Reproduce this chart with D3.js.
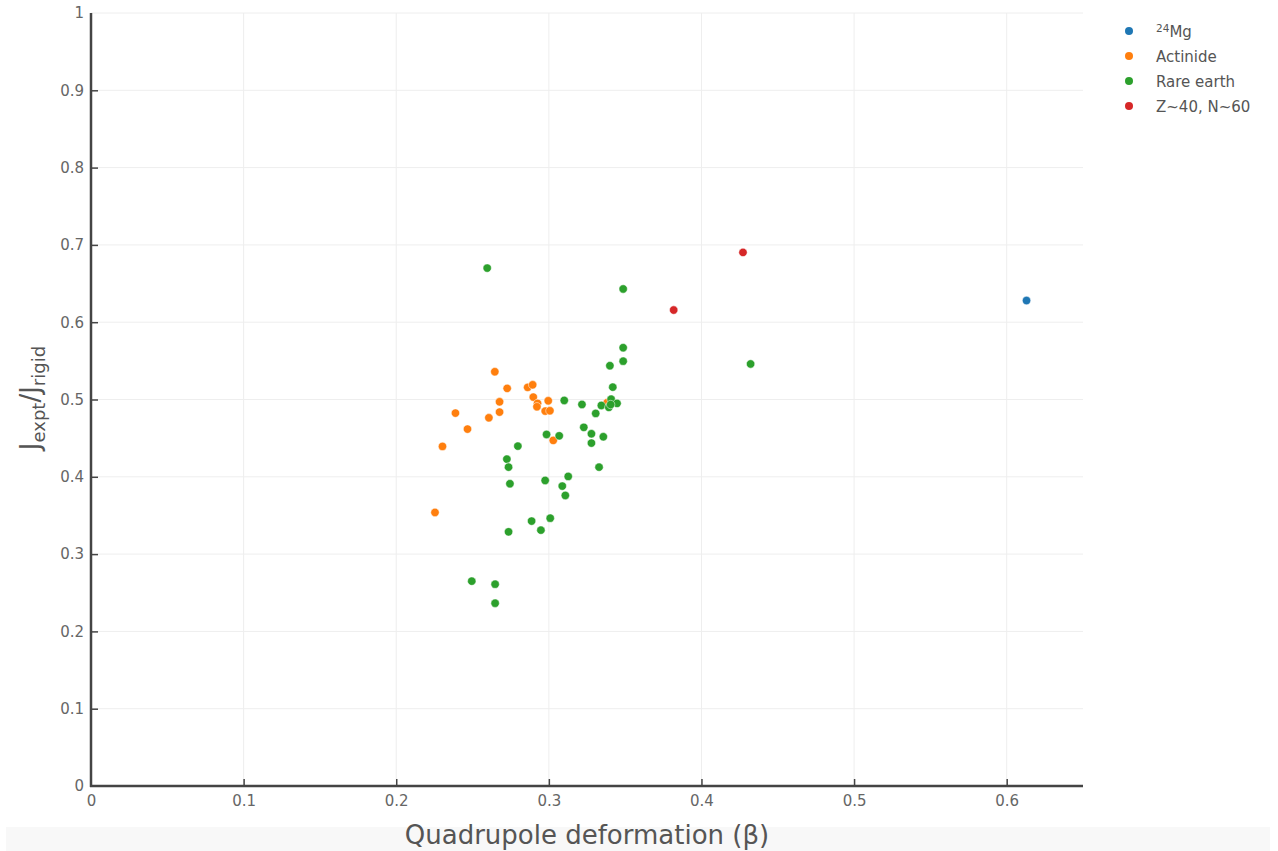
<!DOCTYPE html>
<html>
<head>
<meta charset="utf-8">
<script src="https://cdn.jsdelivr.net/npm/d3@7"></script>
<style>
  html, body { margin: 0; padding: 0; background: #fff; }
  svg { display: block; font-family: "DejaVu Sans", Verdana, sans-serif; }
</style>
</head>
<body>
<svg id="chart" width="1278" height="851"></svg>
<script>
// Moment of inertia ratio vs. quadrupole deformation, by nuclear region
const mgBeta = [0.613];
const mgRatio = [0.628];

const actinideBeta = [0.2646, 0.2727, 0.2861, 0.2894, 0.2898, 0.2926, 0.2922, 0.2996, 0.2976, 0.3007,
  0.2677, 0.2677, 0.2388, 0.2607, 0.2467, 0.2303, 0.3029, 0.2254, 0.3382];
const actinideRatio = [0.5359, 0.5144, 0.5157, 0.519, 0.5031, 0.495, 0.4906, 0.4983, 0.485, 0.4854,
  0.497, 0.4837, 0.4824, 0.4763, 0.4617, 0.4393, 0.4471, 0.3539, 0.4958];

const rareEarthBeta = [0.2596, 0.3487, 0.3487, 0.3487, 0.340, 0.3419, 0.3101, 0.3217, 0.3344, 0.3408,
  0.3447, 0.3393, 0.3405, 0.3307, 0.4322, 0.3229, 0.3279, 0.3357, 0.3279, 0.3329,
  0.3127, 0.2985, 0.3068, 0.2797, 0.2725, 0.2736, 0.2745, 0.2976, 0.3088, 0.3108,
  0.2887, 0.3009, 0.2948, 0.2736, 0.2495, 0.2648, 0.2648];
const rareEarthRatio = [0.670, 0.643, 0.567, 0.5496, 0.5437, 0.516, 0.4988, 0.4936, 0.4923, 0.5005,
  0.495, 0.4898, 0.4935, 0.482, 0.546, 0.464, 0.4557, 0.4518, 0.4436, 0.4125,
  0.4005, 0.4548, 0.453, 0.4397, 0.4229, 0.4125, 0.391, 0.3953, 0.388, 0.3759,
  0.3427, 0.3465, 0.331, 0.3288, 0.265, 0.2611, 0.2365];

const zrBeta = [0.3818, 0.4272];
const zrRatio = [0.6157, 0.6903];

const xTicks = [0, 0.1, 0.2, 0.3, 0.4, 0.5, 0.6];
const yTicks = [0, 0.1, 0.2, 0.3, 0.4, 0.5, 0.6, 0.7, 0.8, 0.9, 1];

const seriesNames = ["24Mg", "Actinide", "Rare earth", "Z~40, N~60"];
const seriesColors = ["#1f77b4", "#ff7f0e", "#2ca02c", "#d62728"];

const series = [
  { name: seriesNames[0], color: seriesColors[0], xs: mgBeta, ys: mgRatio },
  { name: seriesNames[1], color: seriesColors[1], xs: actinideBeta, ys: actinideRatio },
  { name: seriesNames[2], color: seriesColors[2], xs: rareEarthBeta, ys: rareEarthRatio },
  { name: seriesNames[3], color: seriesColors[3], xs: zrBeta, ys: zrRatio }
];

const svg = d3.select("#chart");
const plot = { left: 91, right: 1083, top: 13, bottom: 786 };

const x = d3.scaleLinear().domain([0, 0.65]).range([plot.left, plot.right]);
const y = d3.scaleLinear().domain([0, 1]).range([plot.bottom, plot.top]);

// Band behind the x-axis title
svg.append("rect").attr("x", 6).attr("y", 827).attr("width", 1264).attr("height", 24)
  .attr("fill", "#f8f8f8");

// Grid
const grid = svg.append("g");
grid.selectAll(".gx").data(xTicks.filter(d => d > 0)).join("line")
  .attr("x1", d => x(d)).attr("x2", d => x(d))
  .attr("y1", plot.top).attr("y2", plot.bottom)
  .attr("stroke", "#eeeeee").attr("stroke-width", 1);
grid.selectAll(".gy").data(yTicks.filter(d => d > 0)).join("line")
  .attr("x1", plot.left).attr("x2", plot.right)
  .attr("y1", d => y(d)).attr("y2", d => y(d))
  .attr("stroke", "#eeeeee").attr("stroke-width", 1);

// Axes with inside ticks
const xAxis = d3.axisBottom(x).tickValues(xTicks).tickSize(-7).tickPadding(9)
  .tickFormat(d3.format("~g"));
const yAxis = d3.axisLeft(y).tickValues(yTicks).tickSize(-7).tickPadding(7)
  .tickFormat(d3.format("~g"));

const gx = svg.append("g").attr("transform", `translate(0,${plot.bottom})`).call(xAxis);
const gy = svg.append("g").attr("transform", `translate(${plot.left},0)`).call(yAxis);

[gx, gy].forEach(g => {
  g.select(".domain").attr("stroke", "#444").attr("stroke-width", 2.5);
  g.selectAll(".tick line").attr("stroke", "#444").attr("stroke-width", 1.5);
  g.selectAll(".tick text").attr("fill", "#666").attr("font-size", 15)
    .attr("font-family", "DejaVu Sans, Verdana, sans-serif");
});
gx.select(".domain").attr("d", `M${plot.left - 1},0H${plot.right}`);
gy.select(".domain").attr("d", `M0,${plot.top}V${plot.bottom + 1}`);
gy.selectAll(".tick").filter(d => d === 0 || d === 1).select("line").remove();
gx.selectAll(".tick").filter(d => d === 0).select("line").remove();

// Points
const pts = svg.append("g");
series.forEach(s => {
  pts.append("g").selectAll("circle")
    .data(s.xs.map((v, i) => [v, s.ys[i]]))
    .join("circle")
    .attr("cx", d => x(d[0])).attr("cy", d => y(d[1])).attr("r", 4.2)
    .attr("fill", s.color).attr("stroke", "#fff").attr("stroke-width", 0.5);
});

// Axis titles
svg.append("text").attr("x", 587).attr("y", 844)
  .attr("text-anchor", "middle").attr("font-size", 26).attr("fill", "#555")
  .text("Quadrupole deformation (β)");

const yt = svg.append("text")
  .attr("transform", `translate(39,398) rotate(-90)`)
  .attr("text-anchor", "middle").attr("font-size", 26).attr("fill", "#555");
yt.append("tspan").text("J");
yt.append("tspan").attr("font-size", 18).attr("dy", 6).text("expt");
yt.append("tspan").attr("dy", -6).text("/J");
yt.append("tspan").attr("font-size", 18).attr("dy", 6).text("rigid");

// Legend
const legend = svg.append("g").attr("transform", "translate(1129,31)");
series.forEach((s, i) => {
  const row = legend.append("g").attr("transform", `translate(0,${i * 25})`);
  row.append("circle").attr("r", 4).attr("fill", s.color);
  const t = row.append("text").attr("x", 27).attr("y", 5.5).attr("font-size", 15).attr("fill", "#555");
  if (i === 0) {
    t.append("tspan").attr("font-size", 10.5).attr("dy", -5).text("24");
    t.append("tspan").attr("dy", 5).text("Mg");
  } else {
    t.text(s.name);
  }
});
</script>
</body>
</html>
